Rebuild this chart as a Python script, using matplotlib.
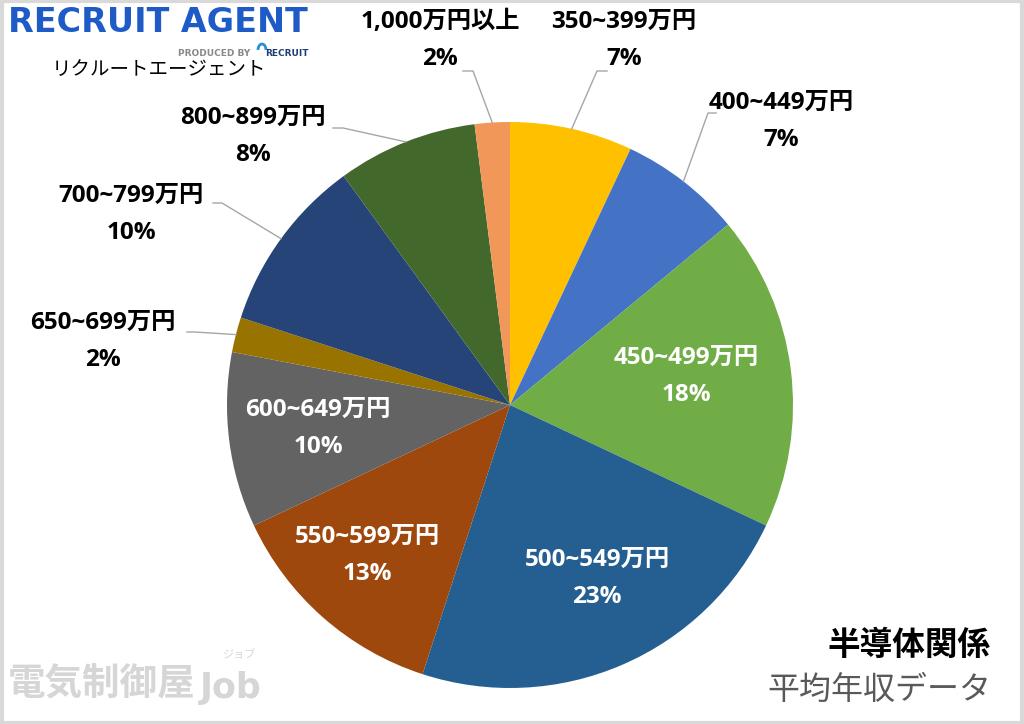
import matplotlib
matplotlib.use("Agg")
import matplotlib.pyplot as plt
import numpy as np
from matplotlib.patches import Rectangle, Arc

plt.rcParams['font.family'] = ['Noto Sans CJK JP', 'DejaVu Sans']

# データ（12時の位置から時計回り）
labels = ['350~399万円', '400~449万円', '450~499万円', '500~549万円', '550~599万円',
          '600~649万円', '650~699万円', '700~799万円', '800~899万円', '1,000万円以上']
shares = [7, 7, 18, 23, 13, 10, 2, 10, 8, 2]
colors = ['#FFC000', '#4472C4', '#70AD47', '#255E91', '#9E480E',
          '#636363', '#997300', '#264478', '#43682B', '#F1975A']

# ラベル1行目の中心（ピクセル）と引き出し線の始点・折れ点
label_pos = [(624, 22), (781, 103), (686, 358), (597, 560), (367, 537),
             (318, 410), (103, 323), (131, 196), (253, 118), (440, 22)]
inside = [False, False, True, True, True, True, False, False, False, False]
leader = {0: [(607, 71), (597, 71)], 1: [(716, 113), (708, 113)],
          6: [(187, 332), (195, 332)], 7: [(213, 203), (222, 203)],
          8: [(333, 128), (343, 128)], 9: [(463, 71), (473, 71)]}

W, H = 1024, 724
CX, CY, R = 510, 405, 283
LINE_GAP = 37
LABEL_FONT = ['Open Sans', 'Noto Sans CJK JP', 'DejaVu Sans']

fig = plt.figure(figsize=(W / 100, H / 100), dpi=100)
ax = fig.add_axes([(CX - R) / W, (H - CY - R) / H, 2 * R / W, 2 * R / H])
wedges, _ = ax.pie(shares, colors=colors, startangle=90, counterclock=False,
                   radius=1, wedgeprops=dict(linewidth=0))
ax.set_xlim(-1, 1)
ax.set_ylim(-1, 1)
ax.axis('off')


def px(x, y):
    return (x - CX) / R, (CY - y) / R


cum = np.cumsum([0] + shares)
total = cum[-1]
for i, (lab, s) in enumerate(zip(labels, shares)):
    lx, ly = label_pos[i]
    c = 'white' if inside[i] else 'black'
    x, y = px(lx, ly)
    ax.text(x, y, lab, ha='center', va='center', fontsize=17.5,
            fontweight='bold', color=c, family=LABEL_FONT)
    x, y = px(lx, ly + LINE_GAP)
    ax.text(x, y, f'{s}%', ha='center', va='center', fontsize=17.5,
            fontweight='bold', color=c, family=LABEL_FONT)
    if i in leader:
        mid = (cum[i] + cum[i + 1]) / 2 / total
        ang = np.deg2rad(90 - 360 * mid)
        p0 = px(*leader[i][0])
        p1 = px(*leader[i][1])
        ax.plot([p0[0], p1[0], np.cos(ang)], [p0[1], p1[1], np.sin(ang)],
                color='#A6A6A6', lw=1, clip_on=False)


def fx(x):
    return x / W


def fy(y):
    return 1 - y / H


# ロゴ
fig.text(fx(8), fy(22), 'RECRUIT AGENT', fontsize=24, fontweight='bold',
         color='#1E5BC6', family='DejaVu Sans', va='center', ha='left')
fig.text(fx(250), fy(53), 'PRODUCED BY', fontsize=6.5, color='#888888',
         family='DejaVu Sans', va='center', ha='right', fontweight='bold')
fig.patches.append(Arc((fx(262), fy(50)), 8 / W, 12 / H, theta1=0, theta2=180,
                       transform=fig.transFigure, color='#2A8FD8', lw=2))
fig.text(fx(309), fy(53), 'RECRUIT', fontsize=6.5, color='#1E3C78',
         family='DejaVu Sans', va='center', ha='right', fontweight='bold')
fig.text(fx(52), fy(69), 'リクルートエージェント', fontsize=14, color='black',
         va='center', ha='left')

# 透かし
fig.text(fx(8), fy(684), '電気制御屋', fontsize=27, color='#D6D6D6',
         va='center', ha='left', fontweight='bold')
fig.text(fx(200), fy(688), 'Job', fontsize=25, color='#D6D6D6',
         va='center', ha='left', fontweight='bold', family='DejaVu Sans')
fig.text(fx(240), fy(655), 'ジョブ', fontsize=8, color='#D6D6D6',
         va='center', ha='center')

# タイトル
fig.text(fx(991), fy(645), '半導体関係', fontsize=23.5, fontweight='bold',
         color='black', va='center', ha='right')
fig.text(fx(991), fy(690), '平均年収データ', fontsize=23, color='#595959',
         va='center', ha='right')

# 枠
fig.patches.append(Rectangle((0.0015, 0.002), 0.997, 0.996, transform=fig.transFigure,
                             fill=False, edgecolor='#D9D9D9', linewidth=3))

fig.savefig('out.png', dpi=100)
